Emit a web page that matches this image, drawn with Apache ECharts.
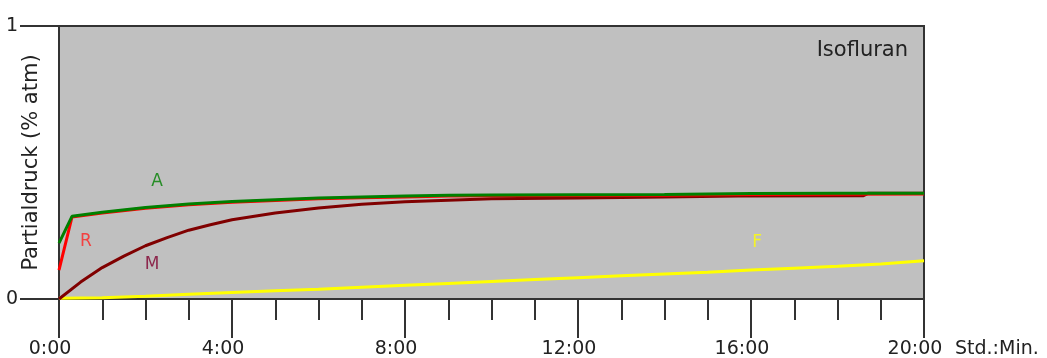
<!DOCTYPE html>
<html>
<head>
<meta charset="utf-8">
<script src="https://cdn.jsdelivr.net/npm/echarts@6/dist/echarts.min.js"></script>
<style>
  html, body { margin: 0; padding: 0; background: #fff; }
  #chart { width: 1047px; height: 358px; }
</style>
</head>
<body>
<div id="chart"></div>
<script>
// Zeit in Stunden, Partialdruck (Anteil 0..1)
const hoursA = [0, 0.3, 1, 2, 3, 4, 5, 6, 7, 8, 9, 10, 12, 14, 16, 18, 20];
const valuesA = [0.205, 0.303, 0.318, 0.335, 0.348, 0.357, 0.364, 0.370, 0.374, 0.377, 0.380, 0.381, 0.382, 0.383, 0.386, 0.387, 0.387];

const hoursR = [0, 0.3, 1, 2, 3, 4, 5, 6, 7, 8, 9, 10, 12, 14, 16, 18, 20];
const valuesR = [0.106, 0.300, 0.315, 0.332, 0.345, 0.354, 0.361, 0.367, 0.371, 0.374, 0.377, 0.378, 0.379, 0.380, 0.383, 0.384, 0.385];

const hoursM = [0, 0.5, 1, 1.5, 2, 2.5, 3, 3.5, 4, 5, 6, 7, 8, 9, 10, 12, 14, 15.7, 18.6, 18.7, 20];
const valuesM = [0, 0.062, 0.115, 0.157, 0.195, 0.225, 0.252, 0.272, 0.29, 0.315, 0.333, 0.347, 0.356, 0.362, 0.367, 0.370, 0.374, 0.377, 0.378, 0.387, 0.387];

const hoursF = [0, 1, 2, 3, 4, 5, 6, 7, 8, 9, 10, 11, 12, 13, 14, 15, 16, 17, 18, 19, 20];
const valuesF = [0.003, 0.005, 0.010, 0.017, 0.024, 0.030, 0.036, 0.043, 0.050, 0.057, 0.064, 0.071, 0.078, 0.085, 0.092, 0.098, 0.106, 0.113, 0.120, 0.128, 0.140];

// Beschriftung der Kurven (Position in Datenkoordinaten)
const curveNames = ['A', 'R', 'M', 'F'];
const curveLabelPos = [[2.27, 0.429], [0.62, 0.212], [2.15, 0.125], [16.14, 0.205]];
const curveLabelColors = ['#008000', '#ff2020', '#800030', '#ffff00'];

const yTicks = [0, 1];
const fontFam = 'DejaVu Sans, Verdana, sans-serif';

function pairs(xs, ys) {
  return xs.map((x, i) => [x, ys[i]]);
}

function lineSeries(name, xs, ys, color) {
  return {
    name: name,
    type: 'line',
    data: pairs(xs, ys),
    showSymbol: false,
    symbol: 'none',
    lineStyle: { color: color, width: 3 },
    itemStyle: { color: color },
    silent: true
  };
}

const labelSeries = {
  type: 'scatter',
  silent: true,
  symbolSize: 0,
  data: curveNames.map((n, i) => ({
    value: curveLabelPos[i],
    label: {
      show: true,
      position: 'inside',
      formatter: n,
      color: curveLabelColors[i],
      fontSize: 17,
      fontFamily: fontFam
    }
  }))
};

const chart = echarts.init(document.getElementById('chart'));
chart.setOption({
  animation: false,
  title: {
    text: 'Isofluran',
    right: 134,
    top: 35,
    textStyle: { fontSize: 21, fontWeight: 'normal', color: '#222', fontFamily: fontFam }
  },
  grid: {
    left: 59, right: 123, top: 26, bottom: 59,
    outerBoundsMode: 'none',
    containLabel: false,
    show: true,
    backgroundColor: '#c0c0c0',
    borderColor: '#333',
    borderWidth: 2
  },
  xAxis: {
    type: 'value',
    min: 0, max: 20, interval: 4,
    name: 'Std.:Min.',
    nameLocation: 'end',
    nameGap: 31,
    nameMoveOverlap: false,
    nameTextStyle: {
      color: '#222', fontSize: 19, fontFamily: fontFam,
      verticalAlign: 'top', padding: [41, 0, 0, 0]
    },
    splitLine: { show: false },
    axisLine: { lineStyle: { color: '#333', width: 2 } },
    axisTick: { length: 39, lineStyle: { color: '#333', width: 2 } },
    minorTick: { show: true, splitNumber: 4, length: 21, lineStyle: { color: '#333', width: 2 } },
    axisLabel: {
      margin: 41, color: '#222', fontSize: 19, fontFamily: fontFam,
      padding: [0, 18, 0, 0],
      formatter: v => v + ':00'
    }
  },
  yAxis: {
    type: 'value',
    min: yTicks[0], max: yTicks[1], interval: 1,
    name: 'Partialdruck (% atm)',
    nameLocation: 'middle',
    nameGap: 17,
    nameMoveOverlap: false,
    nameTextStyle: { color: '#222', fontSize: 21, fontFamily: fontFam },
    splitLine: { show: false },
    axisLine: { lineStyle: { color: '#333', width: 2 } },
    axisTick: { length: 39, lineStyle: { color: '#333', width: 2 } },
    axisLabel: { margin: 41, color: '#222', fontSize: 19, fontFamily: fontFam }
  },
  series: [
    lineSeries('F', hoursF, valuesF, '#ffff00'),
    lineSeries('M', hoursM, valuesM, '#800000'),
    lineSeries('R', hoursR, valuesR, '#ff0000'),
    lineSeries('A', hoursA, valuesA, '#008000'),
    labelSeries
  ]
});
</script>
</body>
</html>
